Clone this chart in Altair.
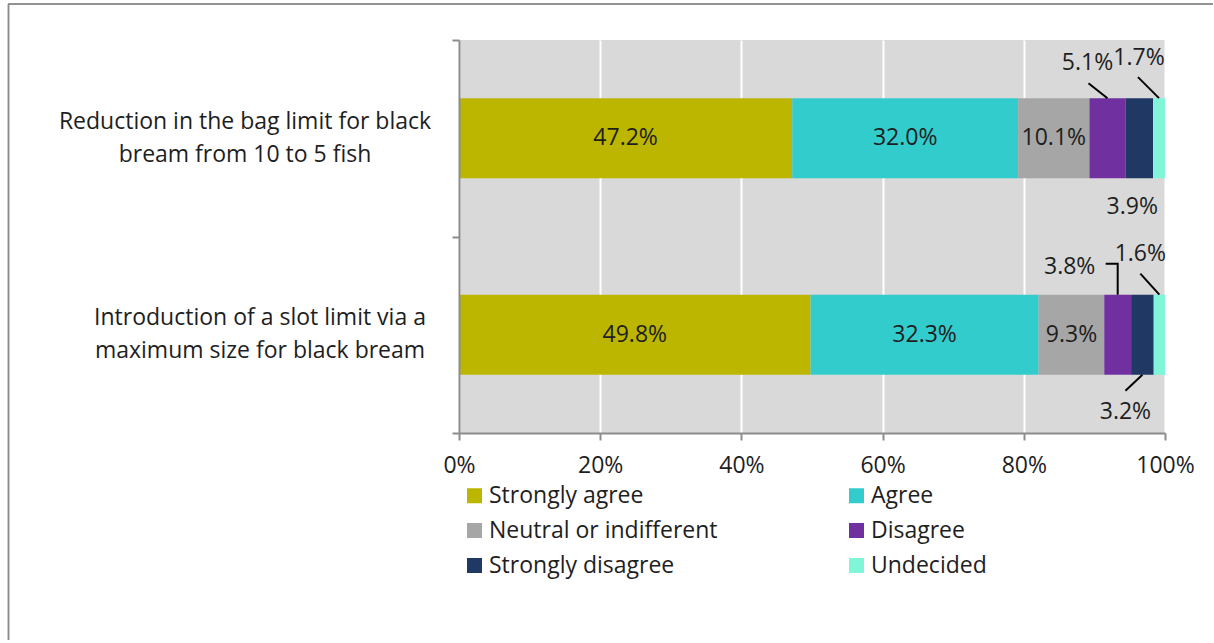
import altair as alt
import pandas as pd

# Survey responses (% of respondents) for two proposed black bream rules
statements = [
    "Reduction in the bag limit for black\nbream from 10 to 5 fish",
    "Introduction of a slot limit via a\nmaximum size for black bream",
]
responses = ["Strongly agree", "Agree", "Neutral or indifferent",
             "Disagree", "Strongly disagree", "Undecided"]
bag_limit = [47.2, 32.0, 10.1, 5.1, 3.9, 1.7]
slot_limit = [49.8, 32.3, 9.3, 3.8, 3.2, 1.6]
shares = [bag_limit, slot_limit]

colors = ["#BCB600", "#33CCCC", "#A6A6A6", "#7030A0", "#1F3864", "#80F5D8"]

# Layout
W, H = 706, 393
PX_PCT = W / 100.0        # pixels per percentage point
PX_UNIT = H / 2.0         # pixels per row unit on the y scale
HALF = 0.204              # half bar thickness in row units
FONT = "Open Sans"
FS = 23
TXT = "#1e1e1e"
AXC = "#8c8c8c"
LINE_H = 33

# Segments too thin for an inside label get an outside label:
# (row, response) -> edge, leader polyline offsets (px), label centre offset (px)
callouts = {
    (0, "Disagree"): ("top", [(-19, -15)], (-20, -35)),
    (0, "Undecided"): ("top", [(-21, -21)], (-20, -40)),
    (0, "Strongly disagree"): ("bottom", [], (-7, 29)),
    (1, "Disagree"): ("top", [(0, -31), (-12, -31)], (-48, -28)),
    (1, "Undecided"): ("top", [(-19, -21)], (-19, -41)),
    (1, "Strongly disagree"): ("bottom", [(-17, 16)], (-17, 37)),
}
label_center_px = [-214, -199]   # horizontal centre of each row's caption

seg_rows, inside_rows, out_rows, leader_rows, cap_rows = [], [], [], [], []
for r, vals in enumerate(shares):
    centre = r + 0.5
    start = 0.0
    for resp, v in zip(responses, vals):
        end = start + v
        mid = (start + end) / 2
        seg_rows.append(dict(row=r, response=resp, x0=start, x1=end,
                             y0=centre - HALF, y1=centre + HALF))
        key = (r, resp)
        label = f"{v:.1f}%"
        if key in callouts:
            edge, pts, (lx, ly) = callouts[key]
            ay = centre - HALF if edge == "top" else centre + HALF
            out_rows.append(dict(x=mid + lx / PX_PCT, y=ay + ly / PX_UNIT, label=label))
            if pts:
                gid = f"{r}-{resp}"
                leader_rows.append(dict(g=gid, i=0, x=mid, y=ay))
                for k, (dx, dy) in enumerate(pts, start=1):
                    leader_rows.append(dict(g=gid, i=k, x=mid + dx / PX_PCT,
                                            y=ay + dy / PX_UNIT))
        else:
            inside_rows.append(dict(x=mid, y=centre, label=label))
        start = end
    cap_rows.append(dict(px=label_center_px[r], y=centre, text=statements[r]))

seg = pd.DataFrame(seg_rows)
inside = pd.DataFrame(inside_rows)
outside = pd.DataFrame(out_rows)
leaders = pd.DataFrame(leader_rows)
caps = pd.DataFrame(cap_rows)

xscale = alt.Scale(domain=[0, 100], nice=False)
yscale = alt.Scale(domain=[0, 2], reverse=True, nice=False)

x_axis = alt.Axis(values=[0, 20, 40, 60, 80, 100], labelExpr="datum.value + '%'",
                  title=None, grid=True, gridColor="white", gridWidth=2,
                  domainColor=AXC, domainWidth=2, tickColor=AXC, tickWidth=2,
                  tickSize=7, labelFont=FONT, labelFontSize=FS, labelColor=TXT,
                  labelPadding=14, labelFlush=False)
y_axis = alt.Axis(values=[0, 1, 2], labels=False, title=None, grid=False,
                  domainColor=AXC, domainWidth=2, tickColor=AXC, tickWidth=2,
                  tickSize=7, zindex=1)

bars = alt.Chart(seg).mark_rect().encode(
    x=alt.X("x0:Q", scale=xscale, axis=x_axis),
    x2="x1:Q",
    y=alt.Y("y0:Q", scale=yscale, axis=y_axis),
    y2="y1:Q",
    color=alt.Color("response:N", sort=responses,
                    scale=alt.Scale(domain=responses, range=colors),
                    legend=alt.Legend(title=None, orient="none", legendX=4, legendY=444,
                                      direction="horizontal", columns=2,
                                      columnPadding=127, rowPadding=11,
                                      symbolType="square", symbolSize=225,
                                      symbolStrokeWidth=0, labelOffset=3,
                                      labelFont=FONT, labelFontSize=FS,
                                      labelColor=TXT, labelLimit=400)),
)

inside_text = alt.Chart(inside).mark_text(font=FONT, fontSize=FS, color=TXT,
                                          baseline="middle").encode(
    x=alt.X("x:Q", scale=xscale), y=alt.Y("y:Q", scale=yscale), text="label:N")

outside_text = alt.Chart(outside).mark_text(font=FONT, fontSize=FS, color=TXT,
                                            baseline="middle").encode(
    x=alt.X("x:Q", scale=xscale), y=alt.Y("y:Q", scale=yscale), text="label:N")

leader_lines = alt.Chart(leaders).mark_line(color="black", strokeWidth=2).encode(
    x=alt.X("x:Q", scale=xscale), y=alt.Y("y:Q", scale=yscale),
    detail="g:N", order="i:Q")

captions = alt.Chart(caps).mark_text(font=FONT, fontSize=FS, color=TXT,
                                     align="center", baseline="middle",
                                     lineBreak="\n", lineHeight=LINE_H,
                                     dy=-LINE_H / 2).encode(
    x=alt.X("px:Q", scale=None), y=alt.Y("y:Q", scale=yscale), text="text:N")

# Frame lines along the top and left of the canvas
frame_left = alt.Chart(caps).mark_rule(color=AXC, strokeWidth=1.5).encode(
    x=alt.value(-450.5), y=alt.value(-36), y2=alt.value(600))
frame_top = alt.Chart(caps).mark_rule(color=AXC, strokeWidth=1.5).encode(
    x=alt.value(-451), x2=alt.value(754), y=alt.value(-36))

chart = alt.layer(
    bars, leader_lines, inside_text, outside_text, captions, frame_left, frame_top
).properties(
    width=W, height=H, padding={"left": 7, "top": 3, "right": 0, "bottom": 0},
    background="white",
).configure_view(fill="#d9d9d9", stroke=None)

chart.save("out.html", embed_options={"renderer": "svg", "actions": False})
